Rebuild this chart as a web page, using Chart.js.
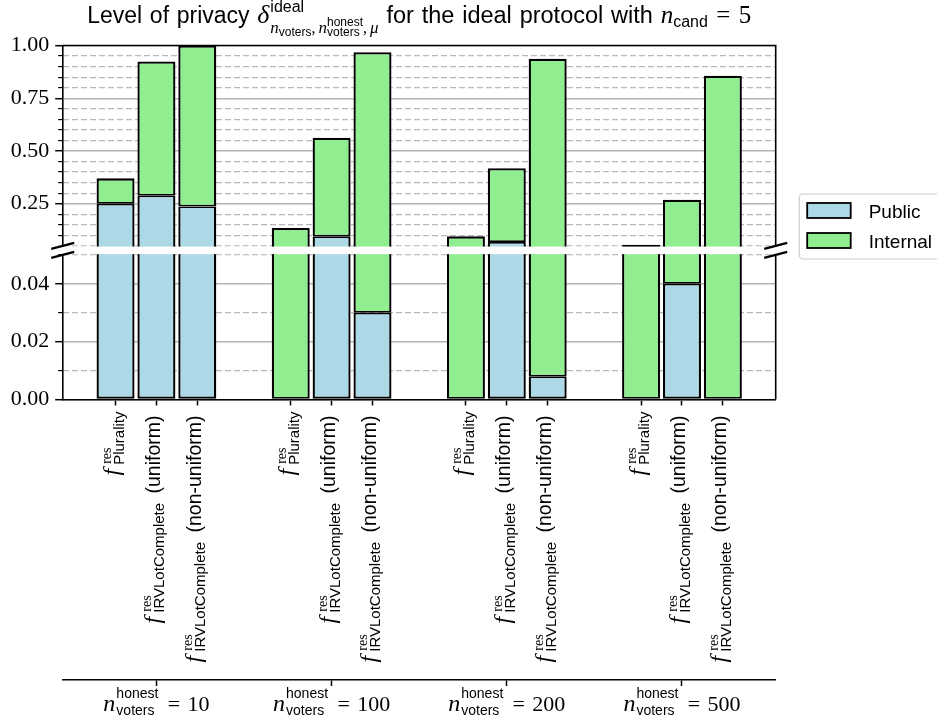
<!DOCTYPE html>
<html>
<head>
<meta charset="utf-8">
<script src="https://cdn.jsdelivr.net/npm/chart.js@4.4.0/dist/chart.umd.min.js"></script>
<style>
  html, body { margin: 0; padding: 0; background: #fff; overflow: hidden; }
  #wrap { position: relative; width: 937px; height: 724px; }
</style>
</head>
<body>
<div id="wrap"><canvas id="privacy" width="937" height="724"></canvas></div>
<script>
// ---- data -------------------------------------------------------------
// number of honest voters for each group of bars
const honestVoters = [10, 100, 200, 500];
// result functions inside every group (name of the subscript, variant)
const resultFunctions = ['Plurality', 'IRVLotComplete', 'IRVLotComplete'];
const resultVariants = ['', 'uniform', 'non-uniform'];
// delta values, ordered group by group, three result functions per group
const publicDelta   = [0.25, 0.288, 0.237,  0.0, 0.095, 0.030,  0.0, 0.068, 0.008,  0.0, 0.040, 0.0];
const internalDelta = [0.12, 0.636, 0.763,  0.135, 0.468, 0.938,  0.095, 0.350, 0.929,  0.055, 0.229, 0.857];
// y-axis ticks (major ones carry labels, minor ones get dashed grid lines)
const majorTicks = [0, 0.02, 0.04, 0.25, 0.50, 0.75, 1.00];
const minorTicks = [0.01, 0.03, 0.05, 0.10, 0.15, 0.20, 0.30, 0.35, 0.40, 0.45,
                    0.55, 0.60, 0.65, 0.70, 0.80, 0.85, 0.90, 0.95];

// ---- layout -----------------------------------------------------------
const BREAK_AT = 0.05;       // lower panel: 0..0.05, upper panel: 0.05..1
const LOWER_SHARE = 0.4086;  // share of the plot height used by the lower panel
const GAP_SHARE = 0.0254;    // white gap between the two panels
const GROUP_WIDTH = 0.7;     // each group of three bars spans 0.7 x-units
const barOffsets = [-1, 0, 1].map(k => k * GROUP_WIDTH / 3);
const barX = [];
honestVoters.forEach((_, g) => barOffsets.forEach(o => barX.push(g + o)));

const SANS = '"Liberation Sans", Arial, sans-serif';
const SERIF = '"Liberation Serif", "Times New Roman", serif';
const font = (style, size, fam) => `${style} ${size}px ${fam}`;
const SP = '\u2004'; // a slightly wider word space

// ---- a linear scale with a broken axis --------------------------------
const LinearScale = Chart.registry.getScale('linear');
class BrokenLinearScale extends LinearScale {
  _parts() {
    const h = this.bottom - this.top;
    const low = h * LOWER_SHARE, gap = h * GAP_SHARE;
    return { low, gap, up: h - low - gap };
  }
  breakPixels() {
    const p = this._parts();
    return { upper: this.bottom - p.low - p.gap, lower: this.bottom - p.low };
  }
  getPixelForValue(value) {
    if (value === null || isNaN(value)) return NaN;
    const p = this._parts();
    if (value <= BREAK_AT) {
      return this.bottom - (value - this.min) / (BREAK_AT - this.min) * p.low;
    }
    return this.bottom - p.low - p.gap - (value - BREAK_AT) / (this.max - BREAK_AT) * p.up;
  }
  getValueForPixel(pixel) {
    const p = this._parts();
    const fromBottom = this.bottom - pixel;
    if (fromBottom <= p.low) return this.min + fromBottom / p.low * (BREAK_AT - this.min);
    return BREAK_AT + (fromBottom - p.low - p.gap) / p.up * (this.max - BREAK_AT);
  }
}
BrokenLinearScale.id = 'brokenLinear';
BrokenLinearScale.defaults = LinearScale.defaults;
Chart.register(BrokenLinearScale);

// ---- small rich-text helper (sub/superscripts) -------------------------
function runWidth(ctx, items) {
  let w = 0;
  for (const it of items) w += itemWidth(ctx, it);
  return w;
}
function itemWidth(ctx, it) {
  if (it.t !== undefined) { ctx.font = it.f; return ctx.measureText(it.t).width + (it.k || 0) + (it.pre || 0); }
  return Math.max(it.sup ? runWidth(ctx, it.sup) + (it.supDx || 0) : 0,
                  it.sub ? runWidth(ctx, it.sub) + (it.subDx || 0) : 0);
}
function drawRun(ctx, items, x, y) {
  for (const it of items) {
    if (it.t !== undefined) {
      ctx.font = it.f;
      ctx.fillText(it.t, x + (it.pre || 0), y);
      x += ctx.measureText(it.t).width + (it.k || 0) + (it.pre || 0);
    } else {
      const w = itemWidth(ctx, it);
      if (it.sup) drawRun(ctx, it.sup, x + (it.supDx || 0), y + it.supDy);
      if (it.sub) drawRun(ctx, it.sub, x + (it.subDx || 0), y + it.subDy);
      x += w;
    }
  }
  return x;
}

const titleItems = [
  { t: ['Level', 'of', 'privacy', ''].join(SP), f: font('', 23, SANS) },
  { t: 'δ', f: font('italic', 26, SERIF), k: 1 },
  { sup: [{ t: 'ideal', f: font('', 16, SANS) }], supDy: -11,
    sub: [
      { t: 'n', f: font('italic', 17, SERIF) },
      { sub: [{ t: 'voters', f: font('', 12, SANS) }], subDy: 3 },
      { t: ',', f: font('', 16, SERIF), k: 3 },
      { t: 'n', f: font('italic', 17, SERIF) },
      { sup: [{ t: 'honest', f: font('', 12, SANS) }], supDy: -7,
        sub: [{ t: 'voters', f: font('', 12, SANS) }], subDy: 3 },
      { t: ',', f: font('', 16, SERIF), k: 3 },
      { t: 'μ', f: font('italic', 17, SERIF) }
    ], subDy: 10 },
  { t: ['', 'for', 'the', 'ideal', 'protocol', 'with', ''].join(SP), f: font('', 23.5, SANS) },
  { t: 'n', f: font('italic', 25, SERIF) },
  { sub: [{ t: 'cand', f: font('', 16, SANS) }], subDy: 4 },
  { t: SP + '=' + SP + '5', f: font('', 25, SERIF) }
];

function tickLabelItems(i) {
  const m = i % 3;
  const items = [
    { t: 'f', f: font('italic', 24, SERIF), k: 5 },
    { sup: [{ t: 'res', f: font('', 14, SERIF) }], supDy: -8.5,
      sub: [{ t: resultFunctions[m], f: font('', 15, SANS) }], subDy: 4.5, subDx: -1 }
  ];
  if (resultVariants[m]) items.push({ t: ' (' + resultVariants[m] + ')', f: font('', 19.5, SANS), pre: 4, k: 4 });
  return items;
}

function groupLabelItems(g) {
  return [
    { t: 'n', f: font('italic', 24, SERIF), k: 1 },
    { sup: [{ t: 'honest', f: font('', 14, SANS) }], supDy: -13,
      sub: [{ t: 'voters', f: font('', 14, SANS) }], subDy: 4 },
    { t: SP + '=' + SP + honestVoters[g], f: font('', 22, SERIF), pre: 2 }
  ];
}

// ---- plugins ------------------------------------------------------------
const decorations = {
  id: 'decorations',
  beforeDatasetsDraw(chart) {
    // dashed grid line at the bottom edge of the upper panel
    const { ctx, chartArea: a } = chart;
    const { upper } = chart.scales.y.breakPixels();
    ctx.save();
    ctx.strokeStyle = '#b8b8b8';
    ctx.lineWidth = 1.2;
    ctx.setLineDash([6, 3]);
    ctx.beginPath();
    ctx.moveTo(a.left, upper);
    ctx.lineTo(a.right, upper);
    ctx.stroke();
    ctx.restore();
  },
  afterDatasetsDraw(chart) {
    const { ctx, chartArea: a } = chart;
    const { upper, lower } = chart.scales.y.breakPixels();
    ctx.save();
    // top and right spines
    ctx.strokeStyle = '#000';
    ctx.lineWidth = 1.6;
    ctx.beginPath();
    ctx.moveTo(a.left, a.top);
    ctx.lineTo(a.right, a.top);
    ctx.lineTo(a.right, a.bottom);
    ctx.stroke();
    // gap between the panels
    ctx.fillStyle = '#fff';
    ctx.fillRect(a.left - 16, upper + 0.7, a.right - a.left + 32, lower - upper - 1.4);
    // break marks
    ctx.lineWidth = 2.2;
    for (const x of [a.left, a.right]) {
      for (const y of [upper, lower]) {
        ctx.beginPath();
        ctx.moveTo(x - 11.5, y + 3);
        ctx.lineTo(x + 11.5, y - 3);
        ctx.stroke();
      }
    }
    ctx.restore();
  },
  afterDraw(chart) {
    const { ctx, chartArea: a } = chart;
    ctx.save();
    ctx.fillStyle = '#000';
    ctx.textBaseline = 'alphabetic';
    ctx.textAlign = 'left';

    // title
    const tw = runWidth(ctx, titleItems);
    drawRun(ctx, titleItems, (a.left + a.right) / 2 - tw / 2, 23);

    // rotated tick labels of the bars
    const xs = chart.scales.x;
    barX.forEach((v, i) => {
      const px = xs.getPixelForValue(v);
      const items = tickLabelItems(i);
      ctx.save();
      ctx.translate(px, xs.top + 12);
      ctx.rotate(-Math.PI / 2);
      const w = runWidth(ctx, items);
      drawRun(ctx, items, -w, 3.5);
      ctx.restore();
    });

    // group labels on the second axis
    const x2 = chart.scales.x2;
    honestVoters.forEach((_, g) => {
      const items = groupLabelItems(g);
      const w = runWidth(ctx, items);
      drawRun(ctx, items, x2.getPixelForValue(g) - w / 2, x2.top + 31);
    });

    // legend
    const lx = a.right + 23.5, ly = 194;
    ctx.fillStyle = 'rgba(255,255,255,0.85)';
    ctx.strokeStyle = '#cccccc';
    ctx.lineWidth = 1.2;
    ctx.beginPath();
    ctx.roundRect(lx, ly, 180, 65, 4);
    ctx.fill();
    ctx.stroke();
    chart.data.datasets.forEach((ds, k) => {
      const by = ly + 9 + k * 30;
      ctx.fillStyle = ds.backgroundColor;
      ctx.fillRect(lx + 8, by, 43.5, 15);
      ctx.strokeStyle = '#000';
      ctx.lineWidth = 1.8;
      ctx.strokeRect(lx + 8, by, 43.5, 15);
      ctx.fillStyle = '#000';
      ctx.font = font('', 19, SANS);
      ctx.fillText(ds.label, lx + 69.5, by + 14.5);
    });
    ctx.restore();
  }
};

// ---- chart --------------------------------------------------------------
const setTicks = values => scale => { scale.ticks = values.map(v => ({ value: v })); };

new Chart(document.getElementById('privacy'), {
  type: 'bar',
  data: {
    datasets: [
      {
        label: 'Public',
        data: barX.map((x, i) => ({ x, y: publicDelta[i] })),
        backgroundColor: '#ADD8E6',
        borderColor: '#000',
        borderWidth: { top: 1.7, left: 2.3, right: 2.3, bottom: 2.3 },
        borderSkipped: false,
        stack: 'delta',
        xAxisID: 'x', yAxisID: 'y'
      },
      {
        label: 'Internal',
        data: barX.map((x, i) => ({ x, y: internalDelta[i] })),
        backgroundColor: '#90EE90',
        borderColor: '#000',
        borderWidth: { top: 2.3, left: 2.3, right: 2.3, bottom: 1.7 },
        borderSkipped: false,
        stack: 'delta',
        xAxisID: 'x', yAxisID: 'y'
      }
    ]
  },
  options: {
    responsive: false,
    animation: false,
    events: [],
    layout: { padding: { top: 45.5, left: 0, right: 161.3, bottom: 0 } },
    datasets: { bar: { categoryPercentage: 1, barPercentage: 0.93 } },
    plugins: { legend: { display: false }, title: { display: false }, tooltip: { enabled: false } },
    scales: {
      x: {
        type: 'linear', position: 'bottom', weight: 0,
        min: -0.535, max: 3.535, offset: false, stacked: true,
        afterBuildTicks: setTicks(barX),
        afterFit: s => { s.height = 280.5; },
        ticks: { display: false },
        grid: { offset: false, drawOnChartArea: false, drawTicks: true, tickLength: 6, tickColor: '#000', tickWidth: 1.5 },
        border: { color: '#000', width: 1.6 }
      },
      x2: {
        type: 'linear', position: 'bottom', weight: 1,
        min: -0.535, max: 3.535, offset: false,
        afterBuildTicks: setTicks(honestVoters.map((_, g) => g)),
        afterFit: s => { s.height = 44; },
        ticks: { display: false },
        grid: { offset: false, drawOnChartArea: false, drawTicks: true, tickLength: 6, tickColor: '#000', tickWidth: 1.5 },
        border: { color: '#000', width: 1.6 }
      },
      y: {
        type: 'brokenLinear', position: 'left', weight: 1,
        min: 0, max: 1, stacked: true,
        afterBuildTicks: setTicks(majorTicks),
        afterFit: s => { s.width = 62.7; },
        ticks: {
          autoSkip: false, padding: 6, color: '#000',
          font: { family: SERIF, size: 22 },
          callback: v => v.toFixed(2)
        },
        grid: { color: '#b4b4b4', lineWidth: 1.4, tickColor: '#000', tickWidth: 1.5, tickLength: 7.5 },
        border: { color: '#000', width: 1.6 }
      },
      yMinor: {
        type: 'brokenLinear', position: 'left', weight: 0,
        min: 0, max: 1,
        afterBuildTicks: setTicks(minorTicks),
        afterFit: s => { s.width = 0; },
        ticks: { display: false },
        grid: { color: '#b8b8b8', lineWidth: 1.2, tickColor: '#000', tickWidth: 1.2, tickLength: 4.5 },
        border: { display: false, dash: [6, 3] }
      }
    }
  },
  plugins: [decorations]
});
</script>
</body>
</html>
